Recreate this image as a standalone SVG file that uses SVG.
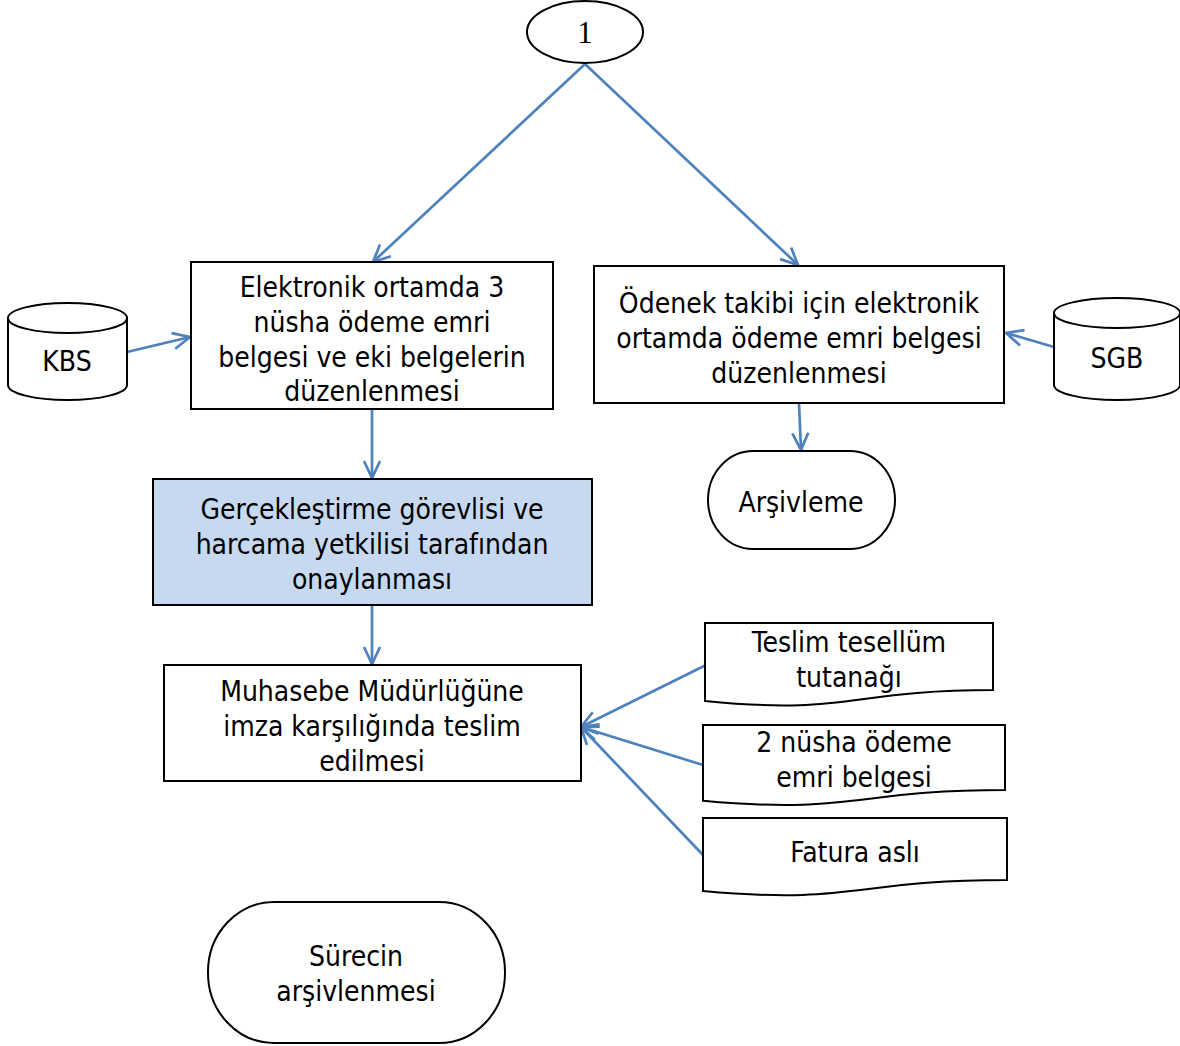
<svg xmlns="http://www.w3.org/2000/svg" width="1180" height="1046" viewBox="0 0 1180 1046">
<style>
.s{fill:#fff;stroke:#000;stroke-width:2}
.h{fill:#C6D9F1;stroke:#000;stroke-width:2}
.t{font-family:"DejaVu Sans Condensed","DejaVu Sans",Verdana,sans-serif;font-stretch:condensed;font-size:28px;fill:#000;text-anchor:middle}
.c{fill:none;stroke:#4F81BD;stroke-width:2.7;marker-end:url(#a)}
</style>
<defs>
<marker id="a" viewBox="0 0 20 20" refX="19" refY="10" markerWidth="20" markerHeight="20" markerUnits="userSpaceOnUse" orient="auto">
<path d="M2,2 L19,10 L2,18" fill="none" stroke="#4F81BD" stroke-width="2.7"/>
</marker>
</defs>
<rect width="1180" height="1046" fill="#fff"/>
<g id="connectors">
<line class="c" x1="585" y1="64" x2="373" y2="262"/>
<line class="c" x1="585" y1="64" x2="798" y2="265"/>
<line class="c" x1="127" y1="352" x2="190" y2="337"/>
<line class="c" x1="1054" y1="347" x2="1006" y2="333"/>
<line class="c" x1="372" y1="409" x2="372" y2="478"/>
<line class="c" x1="799" y1="403" x2="801" y2="450"/>
<line class="c" x1="372" y1="605" x2="372" y2="664"/>
<line class="c" x1="706" y1="665" x2="581" y2="727"/>
<line class="c" x1="703" y1="765" x2="581" y2="727"/>
<line class="c" x1="703" y1="855" x2="581" y2="727"/>
</g>
<g id="n1">
<ellipse class="s" cx="585" cy="32" rx="58" ry="31"/>
<text x="585" y="43" style="font-family:'Liberation Serif','Times New Roman',serif;font-size:31px;text-anchor:middle">1</text>
</g>
<g id="box1">
<rect class="s" x="191" y="262" width="362" height="147"/>
<text class="t" x="372" y="297">Elektronik ortamda 3</text>
<text class="t" x="372" y="332">nüsha ödeme emri</text>
<text class="t" x="372" y="367">belgesi ve eki belgelerin</text>
<text class="t" x="372" y="401">düzenlenmesi</text>
</g>
<g id="box2">
<rect class="s" x="594" y="266" width="410" height="137"/>
<text class="t" x="799" y="313">Ödenek takibi için elektronik</text>
<text class="t" x="799" y="348">ortamda ödeme emri belgesi</text>
<text class="t" x="799" y="383">düzenlenmesi</text>
</g>
<g id="kbs">
<path class="s" d="M8,318 A59.5,15 0 0,1 127,318 V385 A59.5,15 0 0,1 8,385 Z"/>
<path fill="none" stroke="#000" stroke-width="2" d="M8,318 A59.5,15 0 0,0 127,318"/>
<text class="t" x="67" y="371">KBS</text>
</g>
<g id="sgb">
<path class="s" d="M1054,313 A63,15 0 0,1 1180,313 V385 A63,15 0 0,1 1054,385 Z"/>
<path fill="none" stroke="#000" stroke-width="2" d="M1054,313 A63,15 0 0,0 1180,313"/>
<text class="t" x="1117" y="368">SGB</text>
</g>
<g id="box3">
<rect class="h" x="153" y="479" width="439" height="126"/>
<text class="t" x="372" y="519">Gerçekleştirme görevlisi ve</text>
<text class="t" x="372" y="554">harcama yetkilisi tarafından</text>
<text class="t" x="372" y="589">onaylanması</text>
</g>
<g id="arsivleme">
<rect class="s" x="708" y="451" width="187" height="98" rx="45" ry="49"/>
<text class="t" x="801" y="512">Arşivleme</text>
</g>
<g id="box4">
<rect class="s" x="164" y="665" width="417" height="116"/>
<text class="t" x="372" y="701">Muhasebe Müdürlüğüne</text>
<text class="t" x="372" y="736">imza karşılığında teslim</text>
<text class="t" x="372" y="771">edilmesi</text>
</g>
<g id="doc1">
<path class="s" d="M705,623 H993 V690 C849,690 849,715.5 705,701 Z"/>
<text class="t" x="849" y="652">Teslim tesellüm</text>
<text class="t" x="849" y="687">tutanağı</text>
</g>
<g id="doc2">
<path class="s" d="M703,725 H1005 V790 C854,790 854,814.7 703,800.7 Z"/>
<text class="t" x="854" y="752">2 nüsha ödeme</text>
<text class="t" x="854" y="787">emri belgesi</text>
</g>
<g id="doc3">
<path class="s" d="M703,818 H1007 V880 C855,880 855,905 703,891 Z"/>
<text class="t" x="855" y="862">Fatura aslı</text>
</g>
<g id="surecin">
<rect class="s" x="208" y="902" width="297" height="141" rx="66" ry="70"/>
<text class="t" x="356" y="966">Sürecin</text>
<text class="t" x="356" y="1001">arşivlenmesi</text>
</g>
</svg>
